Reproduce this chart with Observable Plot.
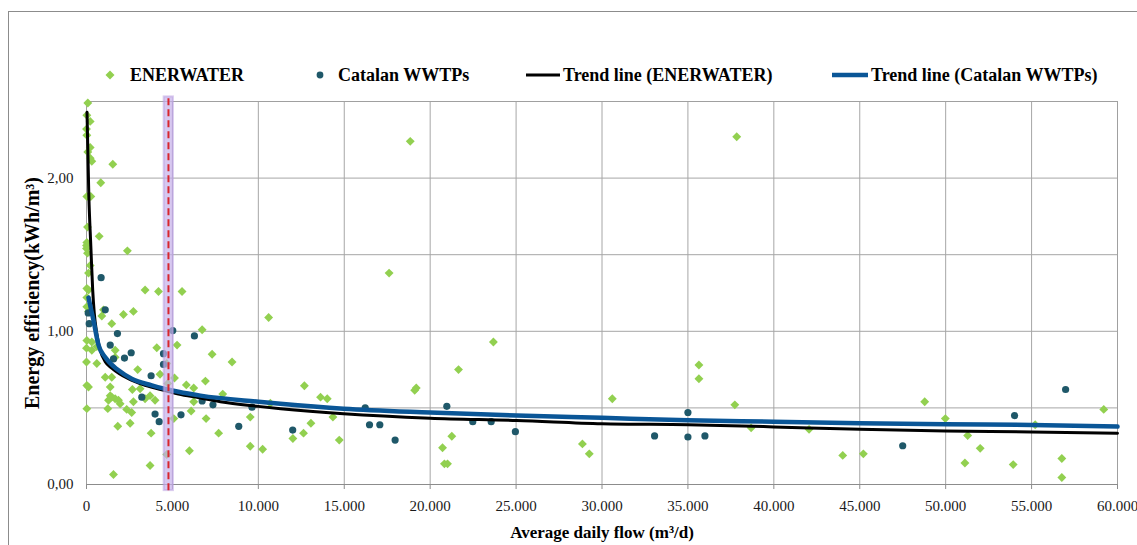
<!DOCTYPE html>
<html><head><meta charset="utf-8">
<script src="https://cdn.jsdelivr.net/npm/d3@7"></script>
<script src="https://cdn.jsdelivr.net/npm/@observablehq/plot@0.6"></script>
<style>
html,body{margin:0;padding:0;background:#fff;}
body{width:1137px;height:545px;overflow:hidden;position:relative;font-family:"Liberation Serif","Times New Roman",serif;}
#frame{position:absolute;left:8px;top:11px;width:1300px;height:700px;border:1.5px solid #8c8c8c;pointer-events:none;}
#legend{position:relative;height:90px;}
.lt{position:absolute;top:64px;height:22px;line-height:22px;font-weight:bold;font-size:18px;color:#000;white-space:nowrap;}
.ls{position:absolute;top:64px;width:40px;height:22px;}
#chart svg{display:block;}
</style></head>
<body>
<div id="frame"></div>
<div id="legend"></div>
<div id="chart"></div>
<script>
// ---- data ----
const enerFlow = [76,20,214,0,20,214,76,214,308,20,250,58,20,0,0,58,214,116,20,116,20,20,116,20,310,0,310,0,20,116,20,
 1530,830,738,2380,3410,4190,5560,990,890,2150,2730,1470,600,1670,4090,600,1670,2980,4670,4280,1090,1470,
 1380,2670,3120,4730,1380,1280,1473,1667,1860,1958,2730,3410,3700,3990,1240,2340,2630,1820,2540,3760,4670,3700,1570,
 5270,5120,5810,6240,6240,5080,6090,5990,10700,6730,10600,17610,23680,21650,19190,19100,12680,13620,14010,
 7310,8470,6920,7930,6960,7690,9530,9530,10250,12010,12630,13060,14340,14710,20720,20830,21010,21260,28860,29260,
 18840,37840,35640,35640,30600,37730,38680,42050,44010,45210,48780,49980,51280,51120,52010,53930,55210,56760,56760,59200];
const enerEff = [2.49,2.41,2.37,2.32,2.28,2.20,2.17,2.13,2.11,1.88,1.88,1.68,1.58,1.56,1.54,1.51,1.43,1.38,1.28,1.27,1.22,1.16,1.13,0.94,0.93,0.89,0.876,0.80,0.647,0.636,0.495,
 2.09,1.97,1.62,1.525,1.27,1.26,1.26,1.14,1.10,1.11,1.13,1.05,0.90,0.876,0.893,0.79,0.83,0.75,0.79,0.72,0.70,0.70,
 0.636,0.62,0.625,0.66,0.58,0.55,0.57,0.56,0.55,0.527,0.54,0.56,0.58,0.55,0.495,0.49,0.47,0.38,0.40,0.335,0.196,0.124,0.065,
 0.91,0.695,0.65,0.63,0.54,0.43,0.48,0.22,0.53,1.01,1.09,1.38,0.93,0.75,0.63,0.615,0.645,0.57,0.56,
 0.85,0.80,0.675,0.59,0.43,0.335,0.44,0.25,0.23,0.30,0.335,0.40,0.44,0.29,0.24,0.135,0.135,0.315,0.265,0.20,
 2.24,2.27,0.78,0.69,0.56,0.52,0.37,0.36,0.19,0.20,0.54,0.43,0.32,0.14,0.236,0.13,0.39,0.17,0.046,0.49];
const catFlow = [850,1090,100,157,1800,1380,2600,1570,2210,5020,4480,4480,3760,3220,3990,4230,
 6280,6730,7360,9630,5500,8860,12000,16220,16470,17070,17960,20970,22480,23550,24960,
 35000,33060,35000,35990,47500,54010,56980];
const catEff = [1.35,1.14,1.12,1.05,0.985,0.91,0.86,0.82,0.825,1.005,0.854,0.784,0.71,0.57,0.46,0.41,
 0.97,0.545,0.52,0.505,0.455,0.38,0.355,0.50,0.39,0.39,0.29,0.51,0.41,0.41,0.345,
 0.47,0.317,0.31,0.317,0.253,0.45,0.62];
const trendEnerFlow = [29,135,250,360,450,600,800,1100,1470,2440,3410,4670,5350,6630,7790,10000,11300,14960,20000,25040,30000,35000,40000,45000,50000,55000,60000];
const trendEnerEff  = [2.43,1.89,1.56,1.27,1.12,0.985,0.876,0.80,0.76,0.69,0.647,0.61,0.59,0.565,0.54,0.51,0.495,0.462,0.433,0.418,0.397,0.39,0.376,0.36,0.35,0.343,0.334];
const trendCatFlow = [116,407,700,1090,1860,2630,3800,5350,6630,10020,11280,14960,20000,25040,30000,35000,40000,45000,50000,55000,60000];
const trendCatEff  = [1.22,1.07,0.91,0.83,0.745,0.69,0.647,0.605,0.58,0.54,0.527,0.495,0.47,0.45,0.435,0.42,0.41,0.40,0.393,0.389,0.378];
const bandFlow = [4520, 5060];
const markerFlow = [4770];
const xTicks = [0,5000,10000,15000,20000,25000,30000,35000,40000,45000,50000,55000,60000];
const xTickLabels = ["0","5.000","10.000","15.000","20.000","25.000","30.000","35.000","40.000","45.000","50.000","55.000","60.000"];
const yTicks = [0,1,2];
const yTickLabels = ["0,00","1,00","2,00"];
const yGrid = [0.5,1,1.5,2];
const legendLabels = ["ENERWATER","Catalan WWTPs","Trend line (ENERWATER)","Trend line (Catalan WWTPs)"];
const xTitle = "Average daily flow (m³/d)";
const yTitle = "Energy efficiency(kWh/m³)";

// ---- tables ----
const ener = enerFlow.map((f,i)=>({flow:f, eff:enerEff[i]}));
const cat = catFlow.map((f,i)=>({flow:f, eff:catEff[i]}));
const trendEner = trendEnerFlow.map((f,i)=>({flow:f, eff:trendEnerEff[i]}));
const trendCat = trendCatFlow.map((f,i)=>({flow:f, eff:trendCatEff[i]}));
const band = [{x1:bandFlow[0], x2:bandFlow[1], y1:-0.04, y2:2.53}];
const xLab = new Map(xTicks.map((t,i)=>[t,xTickLabels[i]]));
const yLab = new Map(yTicks.map((t,i)=>[t,yTickLabels[i]]));

const GREEN = "#92d050", TEAL = "#1f5869", BLUE = "#0a5697";
const SERIF = "'Liberation Serif', 'Times New Roman', serif";

// ---- legend (HTML above the chart) ----
const legend = document.getElementById("legend");
const sym = [
  `<svg class="ls" style="left:90px" viewBox="0 0 40 22"><path d="M20 6.5 L24.5 11 L20 15.5 L15.5 11 Z" fill="${GREEN}"/></svg>`,
  `<svg class="ls" style="left:300px" viewBox="0 0 40 22"><circle cx="20" cy="11" r="3.4" fill="${TEAL}"/></svg>`,
  `<svg class="ls" style="left:522px" viewBox="0 0 40 22"><line x1="4" x2="38" y1="11" y2="11" stroke="#000" stroke-width="3"/></svg>`,
  `<svg class="ls" style="left:830px" viewBox="0 0 40 22"><line x1="2" x2="38" y1="11" y2="11" stroke="${BLUE}" stroke-width="4.5"/></svg>`
];
const textLeft = [130, 338, 563, 871];
legendLabels.forEach((lab,i)=>{
  legend.insertAdjacentHTML("beforeend", sym[i]);
  const s = document.createElement("span");
  s.className = "lt"; s.style.left = textLeft[i] + "px"; s.textContent = lab;
  legend.appendChild(s);
});

// ---- chart ----
const chart = Plot.plot({
  width: 1137, height: 455,
  marginTop: 11, marginBottom: 61, marginLeft: 86, marginRight: 20,
  x: {domain: [0, 60000]},
  y: {domain: [0, 2.5]},
  style: {fontFamily: SERIF, fontSize: "15px", color: "#1a1a1a", background: "transparent", overflow: "visible"},
  marks: [
    Plot.gridX(xTicks, {stroke: "#a6a6a6", strokeOpacity: 1, strokeWidth: 1}),
    Plot.gridY(yGrid, {stroke: "#a6a6a6", strokeOpacity: 1, strokeWidth: 1}),
    Plot.frame({stroke: "#a0a0a0"}),
    Plot.ruleY([0], {stroke: "#8c8c8c"}),
    Plot.axisX(xTicks, {tickFormat: d => xLab.get(d), tickSize: 5, tickPadding: 11, stroke: "#8c8c8c", fontSize: 15, fontFamily: SERIF, label: null}),
    Plot.axisY(yTicks, {tickFormat: d => yLab.get(d), tickSize: 0, tickPadding: 13, fontSize: 15, fontFamily: SERIF, label: null}),
    Plot.dot(ener, {x: "flow", y: "eff", symbol: "diamond2", r: 4, fill: GREEN, stroke: "none"}),
    Plot.dot(cat, {x: "flow", y: "eff", r: 3.6, fill: TEAL, stroke: "none"}),
    Plot.line(trendEner, {x: "flow", y: "eff", stroke: "#000", strokeWidth: 3, curve: "monotone-x"}),
    Plot.line(trendCat, {x: "flow", y: "eff", stroke: BLUE, strokeWidth: 4.5, curve: "monotone-x"}),
    Plot.rect(band, {x1: "x1", x2: "x2", y1: "y1", y2: "y2", fill: "#c6b0ea", fillOpacity: 0.7, stroke: "#b79be0", strokeOpacity: 0.5, strokeWidth: 2}),
    Plot.ruleX(markerFlow, {x: d => d, y1: -0.04, y2: 2.53, stroke: "#d8262e", strokeWidth: 2, strokeDasharray: "7,4"}),
    Plot.text([yTitle], {text: d => d, frameAnchor: "left", textAnchor: "middle", dx: -54, rotate: -90, fontSize: 20, fontWeight: "bold", fontFamily: SERIF, fill: "#000"}),
    Plot.text([xTitle], {text: d => d, frameAnchor: "bottom", textAnchor: "middle", dy: 53, fontSize: 17, fontWeight: "bold", fontFamily: SERIF, fill: "#000"})
  ]
});
document.getElementById("chart").appendChild(chart);
</script>
</body></html>
